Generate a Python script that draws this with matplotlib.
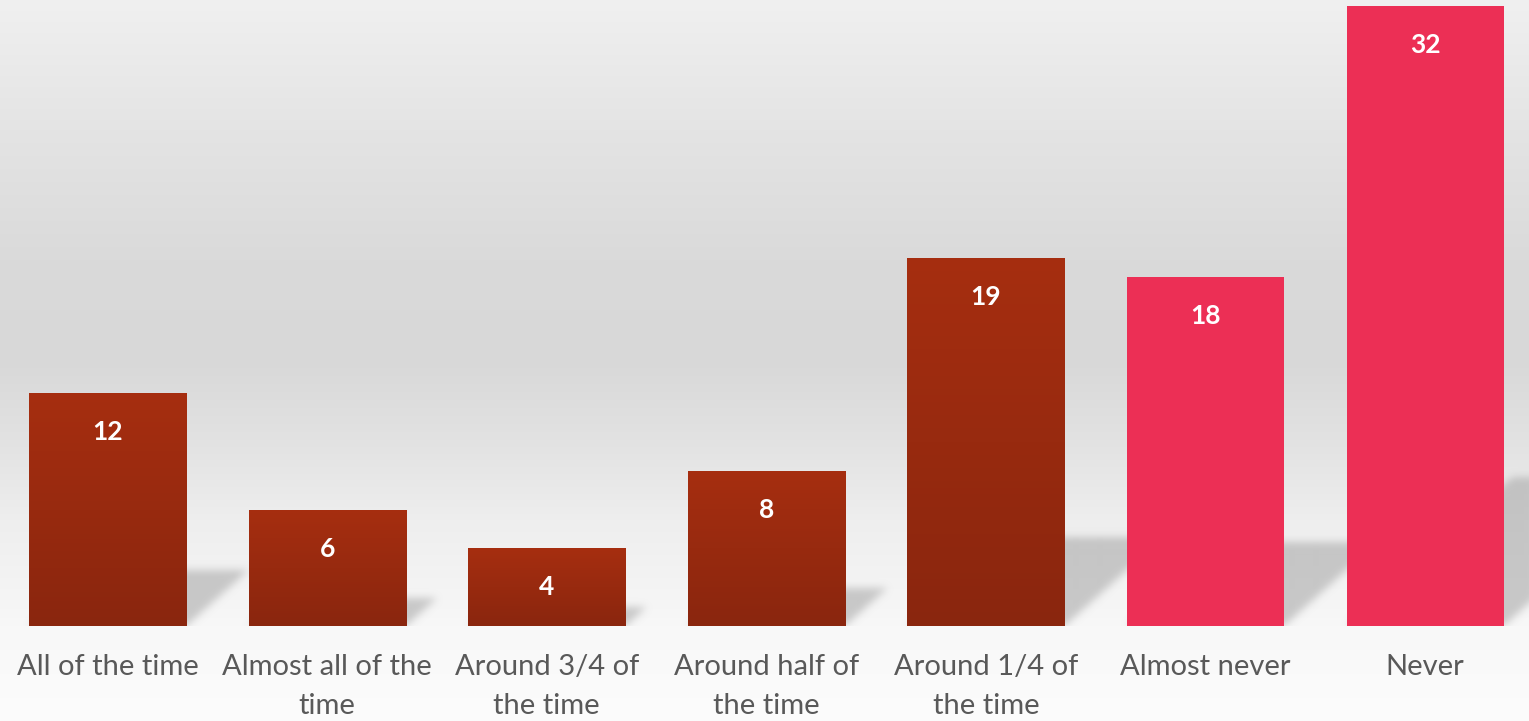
import numpy as np
import matplotlib.pyplot as plt
from matplotlib.colors import LinearSegmentedColormap

plt.rcParams['font.family'] = ['Lato', 'DejaVu Sans']

# Survey answers and counts
categories = ['All of the time', 'Almost all of the\ntime', 'Around 3/4 of\nthe time',
              'Around half of\nthe time', 'Around 1/4 of\nthe time', 'Almost never', 'Never']
counts = [12, 6, 4, 8, 19, 18, 32]
highlight = [False, False, False, False, False, True, True]

W, H = 1529, 721
fig = plt.figure(figsize=(W / 100, H / 100), dpi=100)

# soft grey backdrop, darkest around the middle
bg = fig.add_axes([0, 0, 1, 1], zorder=0)
stops_px = [0, 130, 260, 360, 440, 520, 600, 626, 721]
stops_val = [240, 228, 218, 216, 226, 238, 245, 248, 252]
rows = np.interp(np.arange(H), stops_px, stops_val) / 255.0
bg.imshow(np.repeat(rows[:, None, None], 3, axis=2) * np.ones((1, 2, 1)),
          aspect='auto', extent=(0, 1, 0, 1), interpolation='bilinear')
bg.axis('off')

x = np.arange(len(counts))
slot_px = 219.6
ymax = 32.3
ax = fig.add_axes([(107.5 - slot_px / 2) / W, 95 / H, slot_px * 7 / W, 626 / H], zorder=1)
ax.patch.set_alpha(0)
bar_w = 0.715

# perspective shadows behind each bar, rasterised then blurred
nx, ny = int(slot_px * 7), 626
xs = np.linspace(-0.5, 6.5, nx)
ys = np.linspace(0, ymax, ny)
XX, YY = np.meshgrid(xs, ys)
mask = np.zeros((ny, nx))
px_per_unit = ny / ymax
for xi, v in zip(x, counts):
    hs = 0.24 * v
    dx = (hs * px_per_unit / 0.9) / slot_px
    t = np.clip(YY / hs, 0, 1)
    inside = (YY <= hs) & (XX >= xi - bar_w / 2 + dx * t) & (XX <= xi + bar_w / 2 + dx * t)
    mask[inside] = 1.0
k = np.arange(-12, 13)
kern = np.exp(-k ** 2 / (2 * 4.0 ** 2))
kern /= kern.sum()
mask = np.apply_along_axis(lambda r: np.convolve(r, kern, mode='same'), 1, mask)
mask = np.apply_along_axis(lambda c: np.convolve(c, kern, mode='same'), 0, mask)
shadow = np.zeros((ny, nx, 4))
shadow[..., :3] = 160 / 255
shadow[..., 3] = mask * 0.53
ax.imshow(shadow, origin='lower', extent=(-0.5, 6.5, 0, ymax), aspect='auto',
          interpolation='bilinear', zorder=1)

brown = LinearSegmentedColormap.from_list('brown', ['#8a260e', '#a62e10'])
grad = np.linspace(0, 1, 256)[:, None]
for xi, v, hl in zip(x, counts, highlight):
    if hl:
        ax.bar(xi, v, width=bar_w, color='#ec2f55', zorder=2)
    else:
        bar = ax.bar(xi, v, width=bar_w, color='#98290f', zorder=2)[0]
        im = ax.imshow(grad, cmap=brown, origin='lower', aspect='auto',
                       extent=(xi - bar_w / 2, xi + bar_w / 2, 0, v), zorder=3)
        im.set_clip_path(bar)
    ax.annotate(str(v), (xi, v), xytext=(0, -28), textcoords='offset points',
                ha='center', va='center', color='white', fontsize=19,
                fontweight='bold', zorder=4)

ax.set_xlim(-0.5, 6.5)
ax.set_ylim(0, ymax)
ax.set_xticks(x, categories)
ax.tick_params(axis='x', length=0, pad=20, labelsize=21, labelcolor='#595959')
for lbl in ax.get_xticklabels():
    lbl.set_linespacing(1.65)
ax.set_yticks([])
for s in ax.spines.values():
    s.set_visible(False)

fig.savefig('out.png', dpi=100)
